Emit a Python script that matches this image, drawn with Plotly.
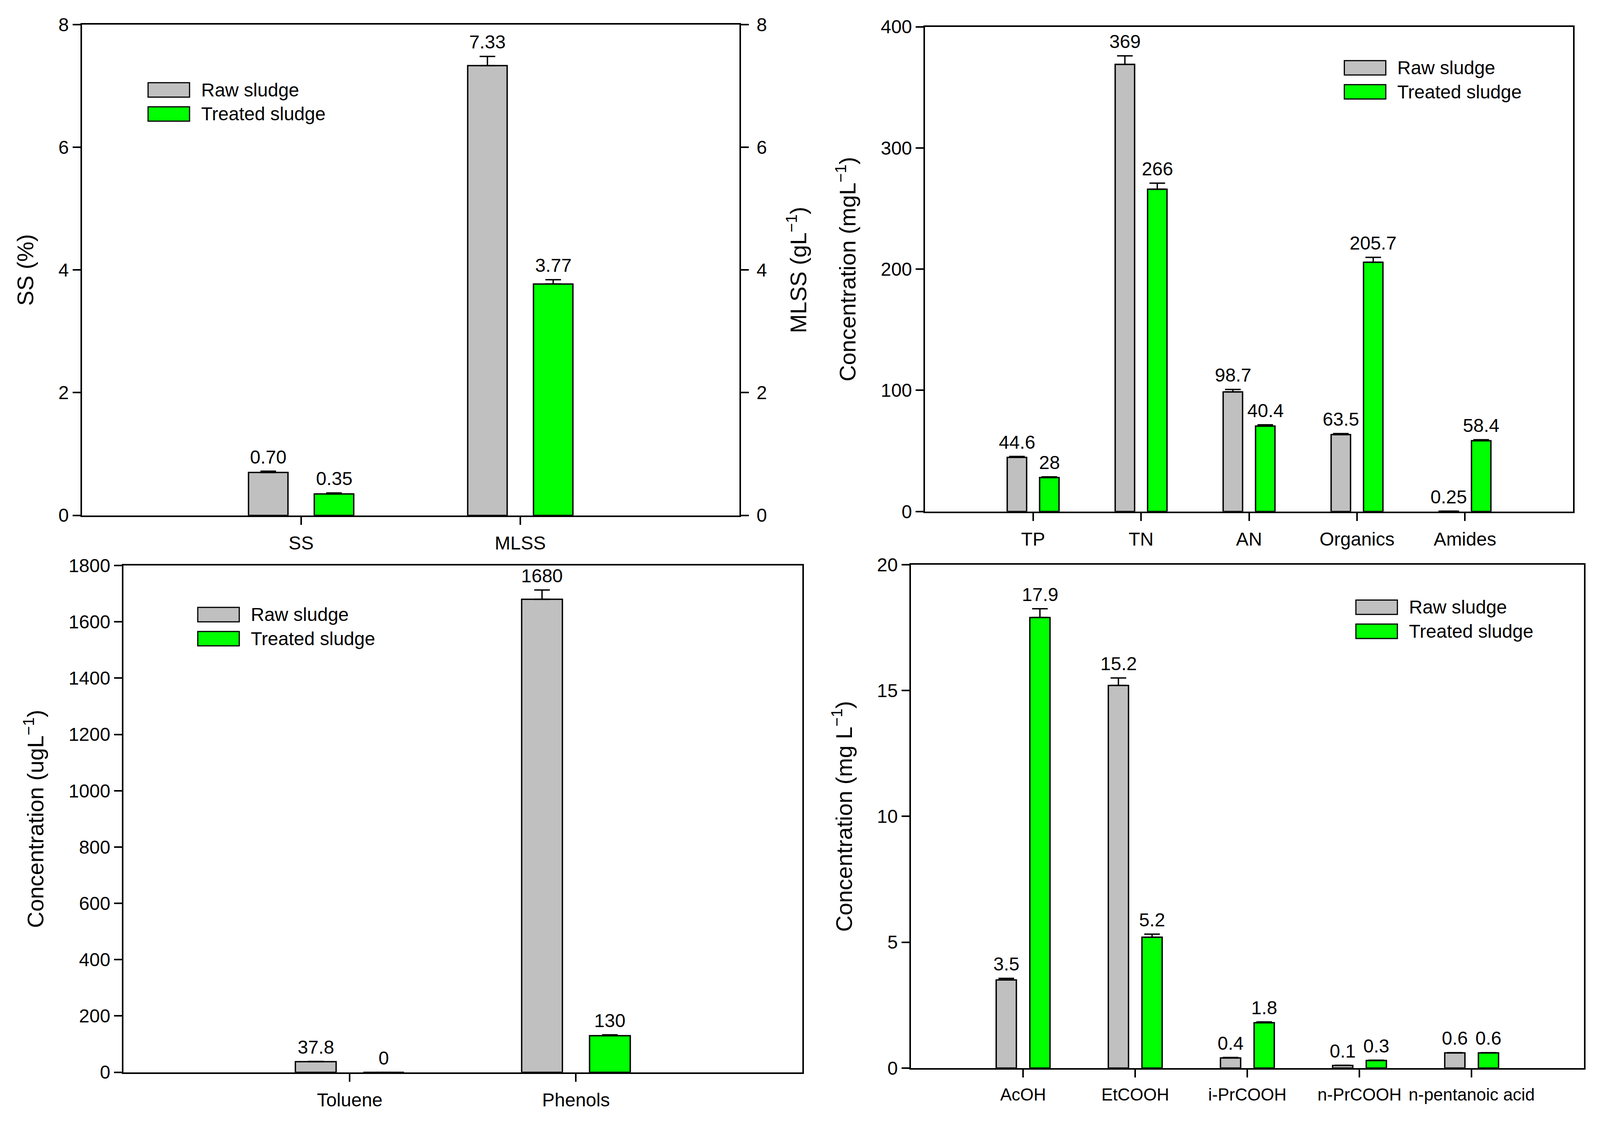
import plotly.graph_objects as go

W, H = 4266, 2873  # reference size, only used to turn pixel layout into fractions
FONT = "Arial, 'Liberation Sans', sans-serif"
GRAY = "#C0C0C0"
GREEN = "#00FF00"
SERIES = ["Raw sludge", "Treated sludge"]

# panel 1: solids
solids_cats = ["SS", "MLSS"]
solids_raw = [0.70, 7.33]
solids_treated = [0.35, 3.77]
solids_raw_err = [0.02, 0.15]
solids_treated_err = [0.015, 0.07]
solids_raw_lbl = ["0.70", "7.33"]
solids_treated_lbl = ["0.35", "3.77"]

# panel 2: nutrients / organics
nut_cats = ["TP", "TN", "AN", "Organics", "Amides"]
nut_raw = [44.6, 369, 98.7, 63.5, 0.25]
nut_treated = [28, 266, 70.5, 205.7, 58.4]  # AN treated bar drawn ~70 but labelled 40.4
nut_raw_err = [0.8, 7, 2, 0.8, 0]
nut_treated_err = [0.6, 5, 1, 4, 0.8]
nut_raw_lbl = ["44.6", "369", "98.7", "63.5", "0.25"]
nut_treated_lbl = ["28", "266", "40.4", "205.7", "58.4"]

# panel 3: aromatics
arom_cats = ["Toluene", "Phenols"]
arom_raw = [37.8, 1680]
arom_treated = [0, 130]
arom_raw_err = [0.5, 33]
arom_treated_err = [0, 3]
arom_raw_lbl = ["37.8", "1680"]
arom_treated_lbl = ["0", "130"]

# panel 4: volatile fatty acids
vfa_cats = ["AcOH", "EtCOOH", "i-PrCOOH", "n-PrCOOH", "n-pentanoic acid"]
vfa_raw = [3.5, 15.2, 0.4, 0.1, 0.6]
vfa_treated = [17.9, 5.2, 1.8, 0.3, 0.6]
vfa_raw_err = [0.06, 0.3, 0.02, 0.01, 0.01]
vfa_treated_err = [0.35, 0.12, 0.03, 0.01, 0.01]
vfa_raw_lbl = ["3.5", "15.2", "0.4", "0.1", "0.6"]
vfa_treated_lbl = ["17.9", "5.2", "1.8", "0.3", "0.6"]

BAR_GAP = 0.4
GROUP_GAP = 0.4
SHIFT = (1 - BAR_GAP) / 4


def px_x(x):
    return x / W


def px_y(y):
    return 1 - y / H


fig = go.Figure()
annotations = []
shapes = []


def add_pair(cats, idx0, raw, tr, raw_err, tr_err, raw_lbl, tr_lbl, xa, ya):
    for k, (vals, errs, lbls, color) in enumerate([(raw, raw_err, raw_lbl, GRAY),
                                                  (tr, tr_err, tr_lbl, GREEN)]):
        fig.add_trace(go.Bar(
            x=cats, y=vals, name=SERIES[k], xaxis=xa, yaxis=ya, showlegend=False,
            marker=dict(color=color, line=dict(color="black", width=3.5)),
            error_y=dict(type="data", array=errs, arrayminus=[0] * len(errs),
                         symmetric=False, color="black", thickness=3.5, width=20),
        ))
        sign = -1 if k == 0 else 1
        for i, (v, e, t) in enumerate(zip(vals, errs, lbls)):
            annotations.append(dict(
                x=idx0 + i + sign * SHIFT, y=v + e, text=t,
                xref=xa, yref=ya, showarrow=False, yanchor="bottom", yshift=8,
                font=dict(family=FONT, size=48, color="black"),
            ))


add_pair(solids_cats[:1], 0, solids_raw[:1], solids_treated[:1], solids_raw_err[:1],
         solids_treated_err[:1], solids_raw_lbl[:1], solids_treated_lbl[:1], "x", "y")
add_pair(solids_cats[1:], 1, solids_raw[1:], solids_treated[1:], solids_raw_err[1:],
         solids_treated_err[1:], solids_raw_lbl[1:], solids_treated_lbl[1:], "x", "y2")
add_pair(nut_cats, 0, nut_raw, nut_treated, nut_raw_err, nut_treated_err,
         nut_raw_lbl, nut_treated_lbl, "x2", "y3")
add_pair(arom_cats, 0, arom_raw, arom_treated, arom_raw_err, arom_treated_err,
         arom_raw_lbl, arom_treated_lbl, "x3", "y4")
add_pair(vfa_cats, 0, vfa_raw, vfa_treated, vfa_raw_err, vfa_treated_err,
         vfa_raw_lbl, vfa_treated_lbl, "x4", "y5")

axis_common = dict(showline=True, linecolor="black", linewidth=4, mirror=True,
                   ticks="outside", ticklen=20, tickwidth=3.5, tickcolor="black",
                   showgrid=False, zeroline=False, automargin=False,
                   tickfont=dict(family=FONT, size=48, color="black"))
title_font = dict(family=FONT, size=58, color="black")


def xaxis(cats, dom, anchor, size=48):
    return dict(axis_common, type="category", categoryorder="array", categoryarray=cats,
                range=[-1, len(cats)], domain=dom, anchor=anchor, tickangle=0,
                ticklabelstandoff=6, tickfont=dict(family=FONT, size=size, color="black"))


def yaxis(top, dtick, dom, anchor, title):
    return dict(axis_common, range=[0, top], dtick=dtick, domain=dom, anchor=anchor,
                title=dict(text=title, font=title_font, standoff=46))


# panel boxes in pixels: left, right, top, bottom
boxes = [(211, 1971, 55, 1319), (2468, 4202, 61, 1309),
         (322, 2139, 1448, 2753), (2430, 4231, 1446, 2742)]
doms = [([px_x(l), px_x(r)], [px_y(b), px_y(t)]) for l, r, t, b in boxes]

fig.update_layout(
    xaxis=xaxis(solids_cats, doms[0][0], "y"),
    yaxis=yaxis(8, 2, doms[0][1], "x", "SS (%)"),
    yaxis2=dict(axis_common, mirror=False, range=[0, 8], dtick=2, overlaying="y",
                side="right", anchor="x", ticklabelstandoff=10,
                title=dict(text="MLSS (gL<sup>\u22121</sup>)", font=title_font, standoff=62)),
    xaxis2=xaxis(nut_cats, doms[1][0], "y3"),
    yaxis3=yaxis(400, 100, doms[1][1], "x2", "Concentration (mgL<sup>\u22121</sup>)"),
    xaxis3=xaxis(arom_cats, doms[2][0], "y4"),
    yaxis4=yaxis(1800, 200, doms[2][1], "x3", "Concentration (ugL<sup>\u22121</sup>)"),
    xaxis4=xaxis(vfa_cats, doms[3][0], "y5", size=44),
    yaxis5=yaxis(20, 5, doms[3][1], "x4", "Concentration (mg L<sup>\u22121</sup>)"),
)

# hand-drawn legends (big rectangular swatches)
legend_px = [(388, 205), (3590, 148), (521, 1556), (3621, 1537)]
for lx, ly in legend_px:
    for k, color in enumerate([GRAY, GREEN]):
        y0 = ly + k * 62
        shapes.append(dict(type="rect", xref="paper", yref="paper",
                           x0=px_x(lx), x1=px_x(lx + 111), y0=px_y(y0 + 37), y1=px_y(y0),
                           fillcolor=color, line=dict(color="black", width=3)))
        annotations.append(dict(xref="paper", yref="paper", x=px_x(lx + 140),
                                y=px_y(y0 + 18.5), text=SERIES[k], showarrow=False,
                                xanchor="left", yanchor="middle",
                                font=dict(family=FONT, size=48, color="black")))

# no fixed width/height: the figure fills the browser window
fig.update_layout(
    margin=dict(l=0, r=0, t=0, b=0, autoexpand=False),
    paper_bgcolor="white", plot_bgcolor="white",
    barmode="group", bargap=BAR_GAP, bargroupgap=GROUP_GAP,
    showlegend=False,
    annotations=annotations, shapes=shapes,
    font=dict(family=FONT, color="black"),
)

fig.write_html("out.html")
